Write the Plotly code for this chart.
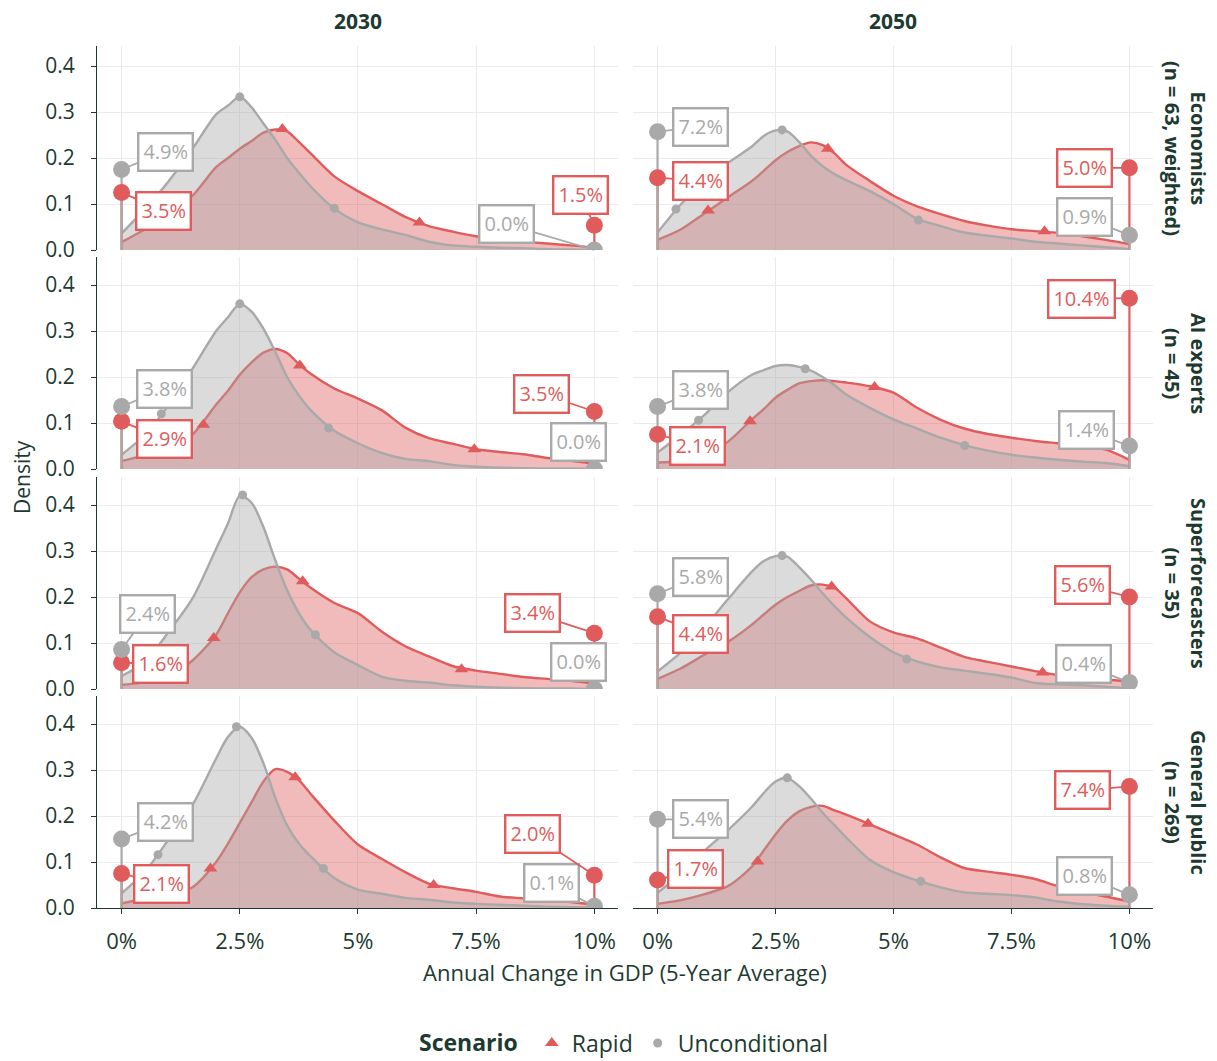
import plotly.graph_objects as go

# ---------------- data ----------------
X_GRID = [0, 0.5, 1, 1.5, 2, 2.25, 2.5, 2.75, 3, 3.25, 3.5, 3.75, 4, 4.5,
          5, 5.5, 6, 6.5, 7, 7.5, 8, 8.5, 9, 9.5, 10]

YEARS = ["2030", "2050"]
GROUPS = ["Economists<br>(n = 63, weighted)", "AI experts<br>(n = 45)",
          "Superforecasters<br>(n = 35)", "General public<br>(n = 269)"]

# Density curves (panel order: Econ 2030, Econ 2050, AI 2030, AI 2050, SF 2030, SF 2050, GP 2030, GP 2050)
ECON_2030_UNCOND = [0.036, 0.09, 0.15, 0.22, 0.295, 0.314, 0.333, 0.31, 0.275, 0.24, 0.2, 0.168, 0.138, 0.09,
                    0.06, 0.045, 0.033, 0.018, 0.01, 0.007, 0.005, 0.004, 0.002, 0.001, 0.0]
ECON_2030_RAPID = [0.017, 0.045, 0.075, 0.118, 0.18, 0.2, 0.22, 0.237, 0.255, 0.262, 0.258, 0.235, 0.21, 0.16,
                   0.128, 0.1, 0.072, 0.052, 0.04, 0.03, 0.023, 0.018, 0.014, 0.01, 0.005]
ECON_2050_UNCOND = [0.038, 0.1, 0.15, 0.19, 0.225, 0.248, 0.26, 0.258, 0.235, 0.205, 0.182, 0.165, 0.152, 0.128,
                    0.1, 0.068, 0.052, 0.038, 0.031, 0.025, 0.018, 0.014, 0.01, 0.006, 0.002]
ECON_2050_RAPID = [0.022, 0.045, 0.08, 0.115, 0.15, 0.172, 0.195, 0.213, 0.226, 0.234, 0.228, 0.21, 0.185, 0.15,
                   0.118, 0.095, 0.078, 0.063, 0.053, 0.045, 0.041, 0.037, 0.03, 0.022, 0.013]
AI_2030_UNCOND = [0.031, 0.075, 0.14, 0.218, 0.3, 0.33, 0.359, 0.342, 0.305, 0.255, 0.2, 0.16, 0.128, 0.083,
                  0.056, 0.035, 0.022, 0.017, 0.009, 0.005, 0.003, 0.002, 0.001, 0.001, 0.0]
AI_2030_RAPID = [0.017, 0.03, 0.045, 0.075, 0.14, 0.17, 0.205, 0.232, 0.253, 0.261, 0.252, 0.228, 0.207, 0.175,
                 0.153, 0.128, 0.09, 0.067, 0.055, 0.043, 0.037, 0.032, 0.024, 0.018, 0.012]
AI_2050_UNCOND = [0.036, 0.075, 0.118, 0.168, 0.205, 0.215, 0.224, 0.226, 0.222, 0.214, 0.2, 0.182, 0.162, 0.133,
                  0.108, 0.088, 0.068, 0.052, 0.04, 0.031, 0.025, 0.02, 0.016, 0.013, 0.006]
AI_2050_RAPID = [0.014, 0.018, 0.03, 0.06, 0.108, 0.13, 0.155, 0.172, 0.186, 0.191, 0.193, 0.191, 0.188, 0.18,
                 0.166, 0.133, 0.107, 0.088, 0.076, 0.068, 0.061, 0.056, 0.051, 0.042, 0.02]
SF_2030_UNCOND = [0.028, 0.06, 0.125, 0.197, 0.305, 0.36, 0.42, 0.405, 0.352, 0.28, 0.215, 0.165, 0.128, 0.08,
                  0.052, 0.027, 0.018, 0.014, 0.008, 0.005, 0.003, 0.002, 0.001, 0.001, 0.0]
SF_2030_RAPID = [0.009, 0.015, 0.028, 0.062, 0.118, 0.165, 0.21, 0.243, 0.26, 0.266, 0.26, 0.24, 0.22, 0.187,
                 0.165, 0.125, 0.093, 0.071, 0.05, 0.04, 0.033, 0.026, 0.022, 0.018, 0.012]
SF_2050_UNCOND = [0.038, 0.08, 0.135, 0.196, 0.255, 0.278, 0.289, 0.288, 0.265, 0.238, 0.208, 0.18, 0.155, 0.113,
                  0.08, 0.06, 0.047, 0.04, 0.033, 0.025, 0.013, 0.01, 0.008, 0.005, 0.002]
SF_2050_RAPID = [0.022, 0.045, 0.075, 0.103, 0.14, 0.162, 0.183, 0.2, 0.213, 0.225, 0.227, 0.22, 0.197, 0.147,
                 0.123, 0.11, 0.09, 0.07, 0.059, 0.049, 0.039, 0.03, 0.024, 0.02, 0.017]
GP_2030_UNCOND = [0.032, 0.08, 0.15, 0.224, 0.325, 0.372, 0.394, 0.37, 0.315, 0.24, 0.18, 0.14, 0.112, 0.065,
                  0.04, 0.031, 0.022, 0.018, 0.012, 0.009, 0.007, 0.005, 0.003, 0.002, 0.001]
GP_2030_RAPID = [0.01, 0.02, 0.028, 0.045, 0.1, 0.14, 0.185, 0.23, 0.275, 0.302, 0.296, 0.278, 0.248, 0.19,
                 0.138, 0.107, 0.078, 0.053, 0.043, 0.035, 0.025, 0.021, 0.017, 0.013, 0.007]
GP_2050_UNCOND = [0.033, 0.075, 0.125, 0.17, 0.22, 0.25, 0.275, 0.283, 0.265, 0.238, 0.207, 0.18, 0.153, 0.105,
                  0.078, 0.06, 0.045, 0.034, 0.031, 0.028, 0.023, 0.014, 0.008, 0.005, 0.003]
GP_2050_RAPID = [0.009, 0.017, 0.03, 0.048, 0.09, 0.125, 0.16, 0.19, 0.21, 0.22, 0.222, 0.212, 0.203, 0.182,
                 0.16, 0.138, 0.11, 0.087, 0.079, 0.072, 0.063, 0.047, 0.035, 0.025, 0.014]

UNCOND_CURVES = [ECON_2030_UNCOND, ECON_2050_UNCOND, AI_2030_UNCOND, AI_2050_UNCOND,
                 SF_2030_UNCOND, SF_2050_UNCOND, GP_2030_UNCOND, GP_2050_UNCOND]
RAPID_CURVES = [ECON_2030_RAPID, ECON_2050_RAPID, AI_2030_RAPID, AI_2050_RAPID,
                SF_2030_RAPID, SF_2050_RAPID, GP_2030_RAPID, GP_2050_RAPID]

# Marked points on the curves
UNCOND_MARK_X = [[2.5, 4.5], [0.39, 2.64, 5.53], [0.84, 2.5, 4.38], [0.87, 3.13, 6.51],
                 [2.56, 4.1], [2.64, 5.28], [0.77, 2.43, 4.27], [2.75, 5.58]]
UNCOND_MARK_Y = [[0.333, 0.091], [0.089, 0.261, 0.065], [0.12, 0.359, 0.089], [0.106, 0.218, 0.051],
                 [0.422, 0.118], [0.29, 0.065], [0.116, 0.394, 0.086], [0.283, 0.058]]
RAPID_MARK_X = [[3.4, 6.3], [1.07, 3.61, 8.2], [1.73, 3.77, 7.46], [1.96, 4.6],
                [1.95, 3.83, 7.19], [3.69, 8.16], [1.88, 3.67, 6.6], [2.12, 4.46]]
RAPID_MARK_Y = [[0.263, 0.06], [0.086, 0.22, 0.041], [0.096, 0.225, 0.043], [0.104, 0.178],
                [0.111, 0.234, 0.043], [0.223, 0.036], [0.086, 0.284, 0.05], [0.101, 0.183]]

# Probability mass (%) at or below 0% and at or above 10%
UNCOND_LOW = [4.9, 7.2, 3.8, 3.8, 2.4, 5.8, 4.2, 5.4]
UNCOND_HIGH = [0.0, 0.9, 0.0, 1.4, 0.0, 0.4, 0.1, 0.8]
RAPID_LOW = [3.5, 4.4, 2.9, 2.1, 1.6, 4.4, 2.1, 1.7]
RAPID_HIGH = [1.5, 5.0, 3.5, 10.4, 3.4, 5.6, 2.0, 7.4]
TAIL_SCALE = 1 / 28.0  # density units per percentage point for the tail lollipops

X_TICKS = [0, 2.5, 5, 7.5, 10]
X_TICK_TEXT = ["0%", "2.5%", "5%", "7.5%", "10%"]
Y_TICKS = [0.0, 0.1, 0.2, 0.3, 0.4]
Y_TICK_TEXT = ["0.0", "0.1", "0.2", "0.3", "0.4"]

# label offsets in pixels (dx, dy) for: uncond low, rapid low, uncond high, rapid high
LABEL_OFFSETS = [
    [(44, -18), (42, 18), (-88, -26), (-14, -30)],
    [(43, -5), (43, 3), (-45, -18), (-45, 0)],
    [(43, -18), (43, 18), (-16, -27), (-53, -18)],
    [(43, -17), (40, 11), (-43, -16), (-48, 1)],
    [(26, -36), (39, 1), (-16, -27), (-62, -20)],
    [(43, -17), (43, 17), (-46, -18), (-47, -12)],
    [(44, -17), (40, 10), (-43, -23), (-62, -41)],
    [(43, 0), (38, -11), (-45, -19), (-47, 4)],
]

# ---------------- style ----------------
RED = "#E05C5C"
GRAY = "#A9A9A9"
RED_FILL = "rgba(224,92,92,0.42)"
GRAY_FILL = "rgba(170,170,170,0.42)"
INK = "#1C3A30"
GRID = "#EBEBEB"
FONT = "Open Sans"

W, H = 1217, 1061
ML, MR, MT, MB = 97, 64, 46, 153
PW = W - ML - MR
PH = H - MT - MB
COL_PX = [(97, 618), (633, 1153)]
ROW_PX = [(46, 250), (257, 469), (477, 689), (696, 908)]
X_RANGE = [-0.52, 10.5]


def fx(px):
    return (px - ML) / PW


def fy(py):
    return (H - MB - py) / PH


fig = go.Figure()
layout = {"annotations": []}
anns = layout["annotations"]

for p in range(8):
    r, c = divmod(p, 2)
    n = p + 1
    xa = "x" if n == 1 else f"x{n}"
    ya = "y" if n == 1 else f"y{n}"
    top, bot = ROW_PX[r]
    y_top = (bot - top) / 460.0

    layout["xaxis" if n == 1 else f"xaxis{n}"] = dict(
        domain=[fx(COL_PX[c][0]), fx(COL_PX[c][1])], anchor=ya, range=X_RANGE,
        tickvals=X_TICKS, ticktext=X_TICK_TEXT, showticklabels=(r == 3),
        ticks="outside" if r == 3 else "", ticklen=5, tickcolor=INK, tickwidth=1.2,
        ticklabelstandoff=8,
        showline=(r == 3), linecolor=INK, linewidth=1.2,
        showgrid=True, gridcolor=GRID, gridwidth=1, zeroline=False,
        tickfont=dict(family=FONT, size=22, color=INK), fixedrange=True)
    layout["yaxis" if n == 1 else f"yaxis{n}"] = dict(
        domain=[fy(bot), fy(top)], anchor=xa, range=[0, y_top],
        tickvals=Y_TICKS, ticktext=Y_TICK_TEXT, showticklabels=(c == 0),
        ticks="outside" if c == 0 else "", ticklen=5, tickcolor=INK, tickwidth=1.2,
        ticklabelstandoff=12,
        showline=(c == 0), linecolor=INK, linewidth=1.2,
        showgrid=True, gridcolor=GRID, gridwidth=1, zeroline=False,
        tickfont=dict(family=FONT, size=21, color=INK), fixedrange=True)

    # density areas: rapid below, unconditional above
    fig.add_trace(go.Scatter(x=X_GRID, y=RAPID_CURVES[p], mode="lines", fill="tozeroy",
                             fillcolor=RED_FILL, line=dict(color=RED, width=2.4, shape="spline", smoothing=0.8),
                             xaxis=xa, yaxis=ya, showlegend=False, hoverinfo="skip"))
    fig.add_trace(go.Scatter(x=X_GRID, y=UNCOND_CURVES[p], mode="lines", fill="tozeroy",
                             fillcolor=GRAY_FILL, line=dict(color=GRAY, width=2.4, shape="spline", smoothing=0.8),
                             xaxis=xa, yaxis=ya, showlegend=False, hoverinfo="skip"))
    # curve markers
    fig.add_trace(go.Scatter(x=RAPID_MARK_X[p], y=RAPID_MARK_Y[p], mode="markers",
                             marker=dict(symbol="triangle-up", size=12, color=RED),
                             xaxis=xa, yaxis=ya, showlegend=False, hoverinfo="skip"))
    fig.add_trace(go.Scatter(x=UNCOND_MARK_X[p], y=UNCOND_MARK_Y[p], mode="markers",
                             marker=dict(symbol="circle", size=9, color=GRAY),
                             xaxis=xa, yaxis=ya, showlegend=False, hoverinfo="skip"))

    # tail lollipops
    tails = [(0, UNCOND_LOW[p], GRAY), (0, RAPID_LOW[p], RED),
             (10, UNCOND_HIGH[p], GRAY), (10, RAPID_HIGH[p], RED)]
    order = [1, 3, 0, 2]  # red first, gray above
    for k in order:
        tx, pct, col = tails[k]
        h = pct * TAIL_SCALE
        fig.add_trace(go.Scatter(x=[tx, tx], y=[0, h], mode="lines", line=dict(color=col, width=2.2),
                                 xaxis=xa, yaxis=ya, showlegend=False, hoverinfo="skip"))
    for k in order:
        tx, pct, col = tails[k]
        h = pct * TAIL_SCALE
        fig.add_trace(go.Scatter(x=[tx], y=[h], mode="markers",
                                 marker=dict(symbol="circle", size=17, color=col),
                                 xaxis=xa, yaxis=ya, showlegend=False, hoverinfo="skip"))

    # tail labels
    for k in range(4):
        tx, pct, col = tails[k]
        h = pct * TAIL_SCALE
        dx, dy = LABEL_OFFSETS[p][k]
        anns.append(dict(x=tx, y=h, xref=xa, yref=ya, text=f"{pct:.1f}%",
                         showarrow=True, arrowhead=0, arrowwidth=1.8, arrowcolor=col,
                         ax=dx, ay=dy, standoff=0, startstandoff=0,
                         font=dict(family=FONT, size=20, color=col),
                         bgcolor="white", bordercolor=col, borderwidth=2.4, borderpad=4))

# column strips
for c, yr in enumerate(YEARS):
    anns.append(dict(x=fx((COL_PX[c][0] + COL_PX[c][1]) / 2), y=fy(21), xref="paper", yref="paper",
                     text=f"<b>{yr}</b>", showarrow=False,
                     font=dict(family=FONT, size=21, color=INK), xanchor="center", yanchor="middle"))
# row strips
for r, g in enumerate(GROUPS):
    anns.append(dict(x=fx(1186), y=fy((ROW_PX[r][0] + ROW_PX[r][1]) / 2), xref="paper", yref="paper",
                     text=f"<b>{g}</b>", showarrow=False, textangle=90,
                     font=dict(family=FONT, size=20, color=INK), xanchor="center", yanchor="middle"))
# axis titles
anns.append(dict(x=fx(625), y=fy(972), xref="paper", yref="paper",
                 text="Annual Change in GDP (5-Year Average)", showarrow=False,
                 font=dict(family=FONT, size=22, color=INK), xanchor="center", yanchor="middle"))
anns.append(dict(x=fx(22), y=fy(477), xref="paper", yref="paper", text="Density",
                 showarrow=False, textangle=-90,
                 font=dict(family=FONT, size=21, color=INK), xanchor="center", yanchor="middle"))

# legend traces
fig.add_trace(go.Scatter(x=[None], y=[None], mode="markers", name="Rapid",
                         marker=dict(symbol="triangle-up", size=12, color=RED), showlegend=True))
fig.add_trace(go.Scatter(x=[None], y=[None], mode="markers", name="Unconditional",
                         marker=dict(symbol="circle", size=9, color=GRAY), showlegend=True))

fig.update_layout(
    **layout,
    width=W, height=H,
    margin=dict(l=ML, r=MR, t=MT, b=MB, autoexpand=False),
    plot_bgcolor="white", paper_bgcolor="white",
    font=dict(family=FONT, color=INK),
    showlegend=True,
    legend=dict(orientation="h", x=fx(625), y=fy(1043), xanchor="center", yanchor="middle",
                title=dict(text="<b>Scenario</b> ", side="left", font=dict(family=FONT, size=23, color=INK)),
                font=dict(family=FONT, size=23, color=INK), itemwidth=30, bgcolor="rgba(0,0,0,0)"),
)

fig.write_html("out.html", config={"displayModeBar": False},
               post_script="document.body.style.margin='0px';document.body.style.overflow='hidden';")
